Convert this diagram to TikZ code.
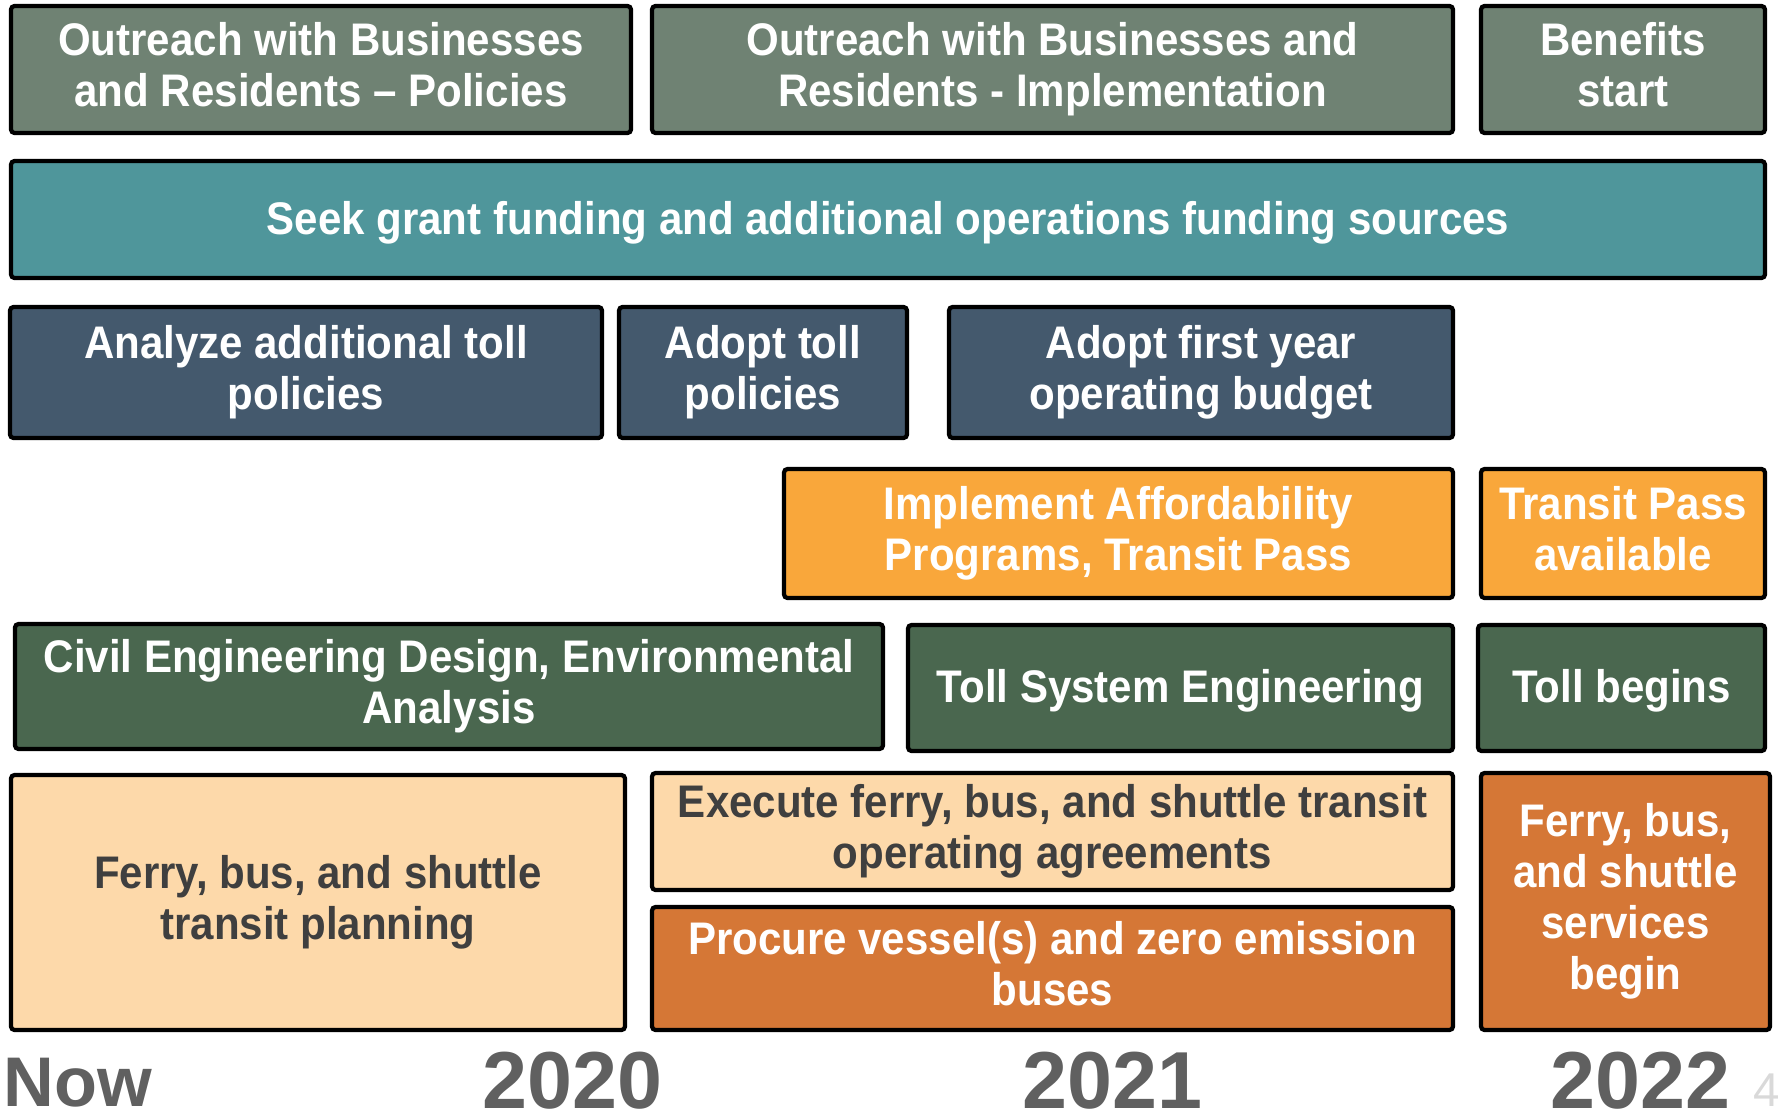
\documentclass[tikz,border=0pt]{standalone}
\usepackage{fontspec}
\setmainfont{Liberation Sans}
\newfontfamily\taskfont[FakeStretch=0.92]{Liberation Sans}
\usepackage{tikz}
\usetikzlibrary{positioning}
\definecolor{outreach}{HTML}{6F8273}
\definecolor{funding}{HTML}{4F969B}
\definecolor{policy}{HTML}{44596D}
\definecolor{afford}{HTML}{F9A73B}
\definecolor{engineer}{HTML}{4A674F}
\definecolor{planning}{HTML}{FDD9AA}
\definecolor{service}{HTML}{D57736}
\definecolor{darktext}{HTML}{3F3F3F}
\definecolor{yeargray}{HTML}{606060}
\definecolor{pagegray}{HTML}{D9D9D9}
\newcommand\taskstrut{\rule[-3pt]{0pt}{14.5pt}}

\begin{document}
\begin{tikzpicture}[x=0.1mm, y=-0.1mm,
	task/.style={draw=black, line width=1.2pt, rounded corners=1pt, align=center, inner sep=0pt, text=white, font=\taskfont\bfseries\fontsize{13}{14.5}\selectfont, execute at begin node=\taskstrut, execute at end node=\taskstrut},
	year/.style={anchor=base west, inner sep=0pt, text=yeargray, font=\bfseries\fontsize{23}{23}\selectfont}]
				\useasboundingbox (0,0) rectangle (1779,1116);
				
				\node[task, fill=outreach, minimum width=62mm, minimum height=12.7mm] (O1) at (321,69.5) {Outreach with Businesses\\and Residents – Policies};
				\node[task, fill=outreach, minimum width=80.1mm, minimum height=12.7mm] (O2) at (1052.5,69.5) {Outreach with Businesses and\\Residents - Implementation};
				\node[task, fill=outreach, minimum width=28.4mm, minimum height=12.7mm] (B) at (1623,69.5) {Benefits\\start};
				
				\node[task, fill=funding, minimum width=175.4mm, minimum height=11.7mm] (F) at (888,219.5) {Seek grant funding and additional operations funding sources};
				
				\node[task, fill=policy, minimum width=59.2mm, minimum height=13.1mm] (P1) at (306,372.5) {Analyze additional toll\\policies};
				\node[task, fill=policy, minimum width=28.8mm, minimum height=13.1mm] (P2) at (763,372.5) {Adopt toll\\policies};
				\node[task, fill=policy, minimum width=50.4mm, minimum height=13.1mm] (P3) at (1201,372.5) {Adopt first year\\operating budget};
				
				\node[task, fill=afford, minimum width=66.9mm, minimum height=12.9mm] (A1) at (1118.5,533.5) {Implement Affordability\\Programs, Transit Pass};
				\node[task, fill=afford, minimum width=28.4mm, minimum height=12.9mm] (A2) at (1623,533.5) {Transit Pass\\available};
				
				\node[task, fill=engineer, minimum width=86.8mm, minimum height=12.5mm] (E1) at (449,686.5) {Civil Engineering Design, Environmental\\Analysis};
				\node[task, fill=engineer, minimum width=54.5mm, minimum height=12.6mm] (E2) at (1180.5,688) {Toll System Engineering};
				\node[task, fill=engineer, minimum width=28.7mm, minimum height=12.6mm] (E3) at (1621.5,688) {Toll begins};
				
				\node[task, fill=planning, text=darktext, minimum width=61.4mm, minimum height=25.5mm] (T1) at (318,902.5) {Ferry, bus, and shuttle\\transit planning};
				\node[task, fill=planning, text=darktext, minimum width=80.1mm, minimum height=11.7mm] (T2) at (1052.5,831.5) {Execute ferry, bus, and shuttle transit\\operating agreements};
				\node[task, fill=service, minimum width=80.1mm, minimum height=12.3mm] (T3) at (1052.5,968.5) {Procure vessel(s) and zero emission\\buses};
				\node[task, fill=service, minimum width=28.9mm, minimum height=25.7mm] (T4) at (1625.5,901.5) {Ferry, bus,\\and shuttle\\services\\begin};
				
				\node[year, font=\bfseries\fontsize{20}{20}\selectfont] (Now) at (3,1106) {Now};
				\node[year] (Y20) at (482,1108) {2020};
				\node[year] (Y21) at (1022,1108) {2021};
				\node[year] (Y22) at (1550,1108) {2022};
				\node[anchor=base west, inner sep=0pt, text=pagegray, font=\fontsize{13.5}{13.5}\selectfont] (Pg) at (1753,1106) {4};
			\end{tikzpicture}
\end{document}
